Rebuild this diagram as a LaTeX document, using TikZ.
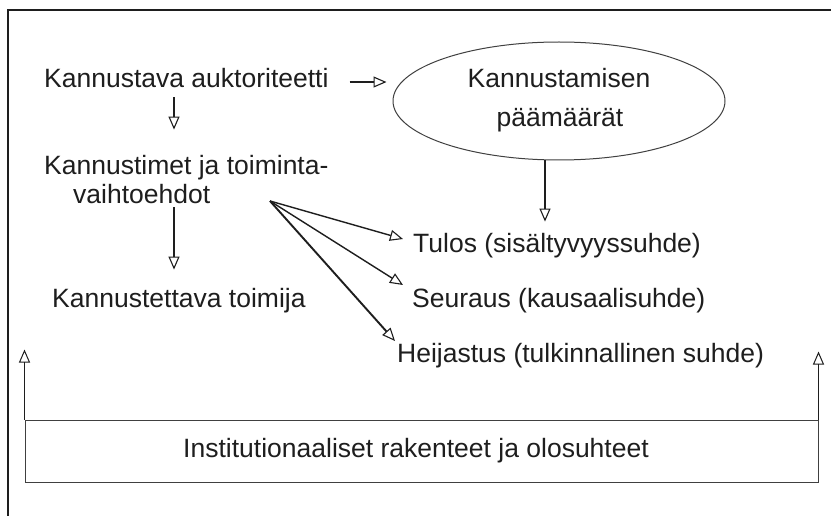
\documentclass[tikz,border=0pt]{standalone}
\usepackage{fontspec}
\setmainfont{Liberation Sans}
\usetikzlibrary{arrows.meta,shapes.geometric}
\definecolor{ink}{HTML}{1E1E1E}
\begin{document}
\begin{tikzpicture}[x=1pt,y=-1pt,
  txt/.style={inner sep=0pt, anchor=base west, text=ink, font=\fontsize{26.5}{39}\selectfont},
  arr/.style={draw=ink, line width=1.4pt, -{Triangle[open,length=13pt,width=11pt,line width=1.1pt]}},
  thinarr/.style={draw=ink, line width=1pt, -{Triangle[open,length=13pt,width=11pt,line width=1pt]}},
  thinline/.style={draw=ink!85, line width=1pt}]
\useasboundingbox (0,0) rectangle (831,516);
\fill[white] (0,0) rectangle (831,516);
\draw[ink, line width=2.6pt] (8,540) -- (8,10) -- (850,10);
% texts
\node[txt] (ka) at (44,88) {Kannustava auktoriteetti};
\node[txt] (kt1) at (44,175) {Kannustimet ja toiminta-};
\node[txt] (kt2) at (73,204) {vaihtoehdot};
\node[txt] (ktt) at (52,307) {Kannustettava toimija};
\node[ellipse, thinline, minimum width=332pt, minimum height=118pt, inner sep=0pt] (el) at (559,101) {};
\node[txt, anchor=base] (el1) at (559,88) {Kannustamisen};
\node[txt, anchor=base] (el2) at (560,127) {päämäärät};
\node[txt] (tu) at (413,252) {Tulos (sisältyvyyssuhde)};
\node[txt] (se) at (412,308) {Seuraus (kausaalisuhde)};
\node[txt] (he) at (397,362) {Heijastus (tulkinnallinen suhde)};
\node[thinline, rectangle, minimum width=793pt, minimum height=62pt, inner sep=0pt] (inst) at (421.5,451) {};
\node[txt, anchor=base] (instt) at (416,457) {Institutionaaliset rakenteet ja olosuhteet};
% helper coordinates
\coordinate (vx) at (174,0);
\coordinate (ex) at (545,0);
\coordinate (fan) at (270,201);
\coordinate (ta) at (403,239);
\coordinate (tb) at (403,285);
\coordinate (tc) at (395,341);
% connectors
\draw[arr, shorten <=21pt, shorten >=6pt] ([yshift=-3.5pt]ka.east) -- ([yshift=-3.5pt]ka.east -| el.west);
\draw[arr, shorten <=9pt, shorten >=26pt] (ka.south -| vx) -- (kt1.north -| vx);
\draw[arr, shorten <=3pt, shorten >=18pt] (kt2.south -| vx) -- (ktt.north -| vx);
\draw[arr, shorten >=11pt] (el.south -| ex) -- (tu.north -| ex);
\draw[arr] (fan) -- (ta);
\draw[arr] (fan) -- (tb);
\draw[arr, line width=1.9pt] (fan) -- (tc);
\draw[thinarr] (inst.north west) -- ++(0,-70);
\draw[thinarr] (inst.north east) -- ++(0,-68);
\end{tikzpicture}
\end{document}
